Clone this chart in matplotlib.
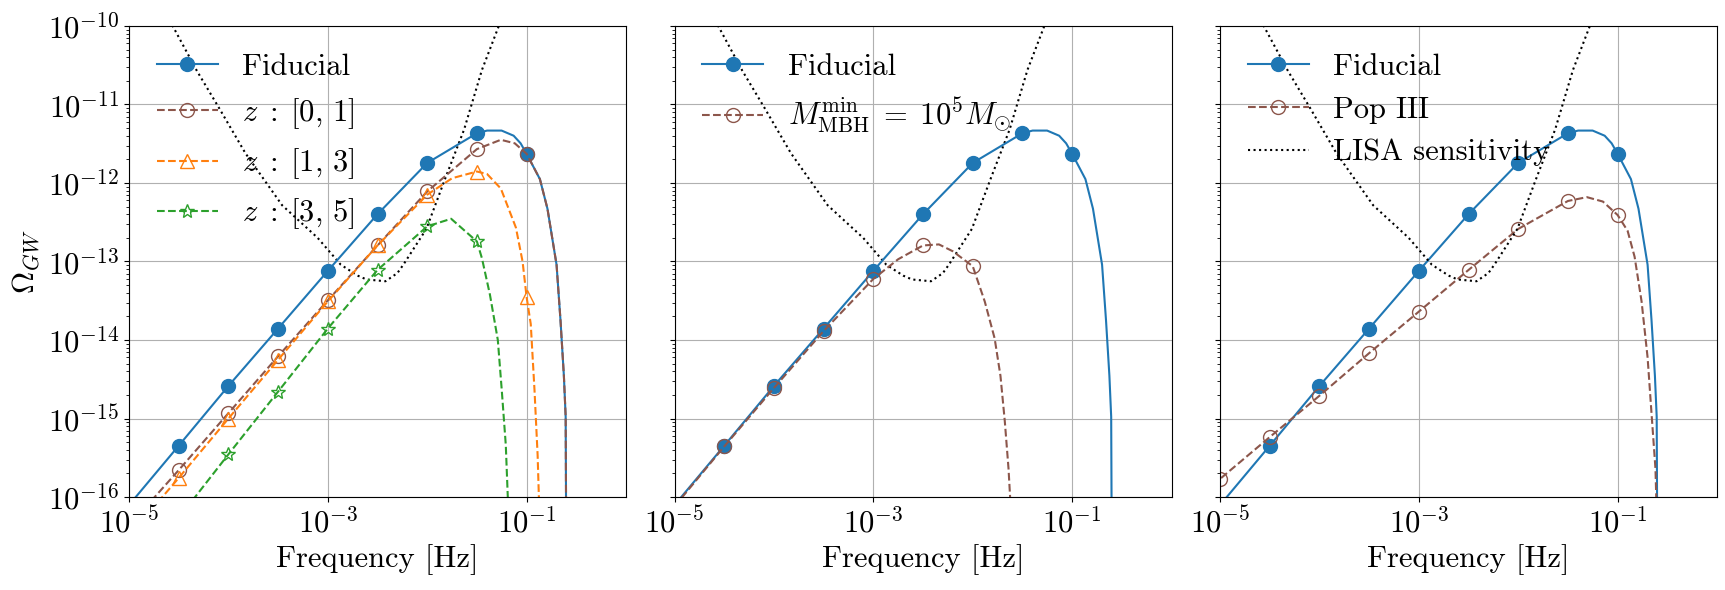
import numpy as np
import matplotlib
matplotlib.use("Agg")
import matplotlib.pyplot as plt
from matplotlib.ticker import FuncFormatter, LogLocator, NullLocator

plt.rcParams['font.family'] = 'serif'
plt.rcParams['font.serif'] = ['cmr10', 'DejaVu Serif']
plt.rcParams['mathtext.fontset'] = 'cm'
plt.rcParams['axes.formatter.use_mathtext'] = True
plt.rcParams['font.size'] = 22

# marker positions (half decades)
marker_freq = [1e-5, 3.16e-5, 1e-4, 3.16e-4, 1e-3, 3.16e-3, 1e-2, 3.16e-2, 1e-1]

# fiducial population
fid_freq = [1e-5, 3.16e-5, 1e-4, 3.16e-4, 1e-3, 3.16e-3, 1e-2, 3.16e-2, 0.04, 0.056,
            0.074, 0.087, 1e-1, 0.136, 0.162, 0.2, 0.219, 0.237, 0.247, 0.251]
fid_omega = [7.9e-17, 4.5e-16, 2.6e-15, 1.4e-14, 7.6e-14, 4.0e-13, 1.8e-12, 4.3e-12, 4.65e-12, 4.65e-12,
             4.0e-12, 3.2e-12, 2.35e-12, 1.12e-12, 4.7e-13, 9.1e-14, 1.8e-14, 3.5e-15, 1.05e-15, 1e-17]

# redshift bins
z01_freq = [1e-5, 3.16e-5, 1e-4, 3.16e-4, 1e-3, 3.16e-3, 1e-2, 3.16e-2, 0.055, 0.076,
            1e-1, 0.136, 0.162, 0.2, 0.219, 0.237, 0.247, 0.251]
z01_omega = [4.3e-17, 2.2e-16, 1.17e-15, 6.2e-15, 3.2e-14, 1.6e-13, 7.8e-13, 2.7e-12, 3.55e-12, 3.2e-12,
             2.35e-12, 1.12e-12, 4.7e-13, 9.1e-14, 1.8e-14, 3.5e-15, 1.05e-15, 1e-17]

z13_freq = [1e-5, 3.16e-5, 1e-4, 3.16e-4, 1e-3, 3.16e-3, 1e-2, 0.0178, 3.16e-2, 0.04,
            0.055, 0.078, 0.091, 1e-1, 0.11, 0.12, 0.129, 0.135]
z13_omega = [3.2e-17, 1.75e-16, 1.0e-15, 5.6e-15, 3.1e-14, 1.6e-13, 7.1e-13, 1.15e-12, 1.4e-12, 1.3e-12,
             8.5e-13, 2.7e-13, 1.0e-13, 3.5e-14, 1.6e-14, 2.3e-15, 3.4e-16, 5e-17]

z35_freq = [3.16e-5, 1e-4, 3.16e-4, 1e-3, 3.16e-3, 1e-2, 0.0174, 3.16e-2, 0.0355, 0.0427,
            0.0513, 0.0562, 0.0617, 0.066]
z35_omega = [5.4e-17, 3.5e-16, 2.2e-15, 1.4e-14, 7.8e-14, 2.8e-13, 3.5e-13, 1.8e-13, 1.1e-13, 3.8e-14,
             1.0e-14, 2.3e-15, 4.6e-16, 5e-17]

# heavier minimum MBH mass
mmin_freq = [1e-5, 3.16e-5, 1e-4, 3.16e-4, 1e-3, 1.78e-3, 3.16e-3, 4.57e-3, 6.3e-3, 1e-2,
             0.0132, 0.0166, 0.019, 0.021, 0.0229, 0.0245]
mmin_omega = [7.6e-17, 4.4e-16, 2.45e-15, 1.3e-14, 6.0e-14, 1.07e-13, 1.6e-13, 1.65e-13, 1.35e-13, 8.7e-14,
              3.1e-14, 1.05e-14, 3.5e-15, 9.3e-16, 2.3e-16, 5e-17]

# Pop III seeds
pop3_freq = [3.16e-6, 1e-5, 3.16e-5, 1e-4, 3.16e-4, 1e-3, 3.16e-3, 1e-2, 3.16e-2, 0.049,
             0.071, 1e-1, 0.126, 0.148, 0.174, 0.2, 0.219, 0.24, 0.251]
pop3_omega = [5e-17, 1.7e-16, 5.8e-16, 1.95e-15, 6.8e-15, 2.3e-14, 7.8e-14, 2.6e-13, 5.9e-13, 6.6e-13,
              5.8e-13, 3.9e-13, 2.45e-13, 1.15e-13, 3.1e-14, 6.0e-15, 1.17e-15, 2.3e-16, 3e-17]

# LISA sensitivity curve
lisa_freq = [2.0e-5, 2.75e-5, 4.8e-5, 8.1e-5, 1.48e-4, 3.47e-4, 7.9e-4, 1.35e-3, 2.0e-3, 2.45e-3,
             3.8e-3, 5.0e-3, 5.75e-3, 9.8e-3, 1.5e-2, 2.35e-2, 3.55e-2, 5.25e-2, 7.1e-2]
lisa_omega = [3.5e-10, 1.0e-10, 2.7e-11, 8.9e-12, 2.4e-12, 5.2e-13, 2.0e-13, 9.1e-14, 6.6e-14, 5.9e-14,
              5.6e-14, 7.1e-14, 9.1e-14, 2.6e-13, 1.1e-12, 4.8e-12, 2.75e-11, 1.0e-10, 3.2e-10]


def marks(freq):
    return [i for i, f in enumerate(freq) if f in marker_freq]


def plot_series(ax, freq, omega, **kw):
    ax.plot(freq, omega, markevery=marks(freq), markersize=10, lw=1.5, **kw)


def log_label(val, pos):
    return r'$10^{%d}$' % int(round(np.log10(val)))


fig, axes = plt.subplots(1, 3, figsize=(17.25, 5.9), dpi=100, sharey=True)
fig.subplots_adjust(left=0.0748, right=0.9954, bottom=0.1576, top=0.956, wspace=0.0976)

blue = '#1f77b4'
brown = '#8c564b'
orange = '#ff7f0e'
green = '#2ca02c'

ax = axes[0]
ax.plot(lisa_freq, lisa_omega, 'k:', lw=1.5)
plot_series(ax, fid_freq, fid_omega, color=blue, ls='-', marker='o', label='Fiducial')
plot_series(ax, z01_freq, z01_omega, color=brown, ls='--', marker='o', mfc='none', label=r'$z\;:\;[0,\,1]$')
plot_series(ax, z13_freq, z13_omega, color=orange, ls='--', marker='^', mfc='none', label=r'$z\;:\;[1,\,3]$')
plot_series(ax, z35_freq, z35_omega, color=green, ls='--', marker='*', mfc='none', label=r'$z\;:\;[3,\,5]$')

ax = axes[1]
ax.plot(lisa_freq, lisa_omega, 'k:', lw=1.5)
plot_series(ax, fid_freq, fid_omega, color=blue, ls='-', marker='o', label='Fiducial')
plot_series(ax, mmin_freq, mmin_omega, color=brown, ls='--', marker='o', mfc='none',
            label=r'$M_{\rm MBH}^{\rm min}\;=\;10^5 M_{\odot}$')

ax = axes[2]
plot_series(ax, fid_freq, fid_omega, color=blue, ls='-', marker='o', label='Fiducial')
plot_series(ax, pop3_freq, pop3_omega, color=brown, ls='--', marker='o', mfc='none', label='Pop III')
ax.plot(lisa_freq, lisa_omega, 'k:', lw=1.5, label='LISA sensitivity')

for ax in axes:
    ax.set_xscale('log')
    ax.set_yscale('log')
    ax.set_xlim(1e-5, 1)
    ax.set_ylim(1e-16, 1e-10)
    ax.set_xticks([1e-5, 1e-3, 1e-1])
    ax.xaxis.set_minor_locator(NullLocator())
    ax.yaxis.set_major_locator(LogLocator(base=10, numticks=10))
    ax.yaxis.set_minor_locator(LogLocator(base=10, subs=np.arange(2, 10), numticks=10))
    ax.xaxis.set_major_formatter(FuncFormatter(log_label))
    ax.yaxis.set_major_formatter(FuncFormatter(log_label))
    ax.tick_params(labelsize=22)
    ax.grid(True, which='major', color='#b0b0b0', lw=0.8)
    ax.set_xlabel('Frequency [Hz]', fontsize=22)
    ax.legend(loc='upper left', frameon=False, fontsize=22)

axes[0].set_ylabel(r'$\Omega_{GW}$', fontsize=22)

fig.savefig('out.png', dpi=100)
